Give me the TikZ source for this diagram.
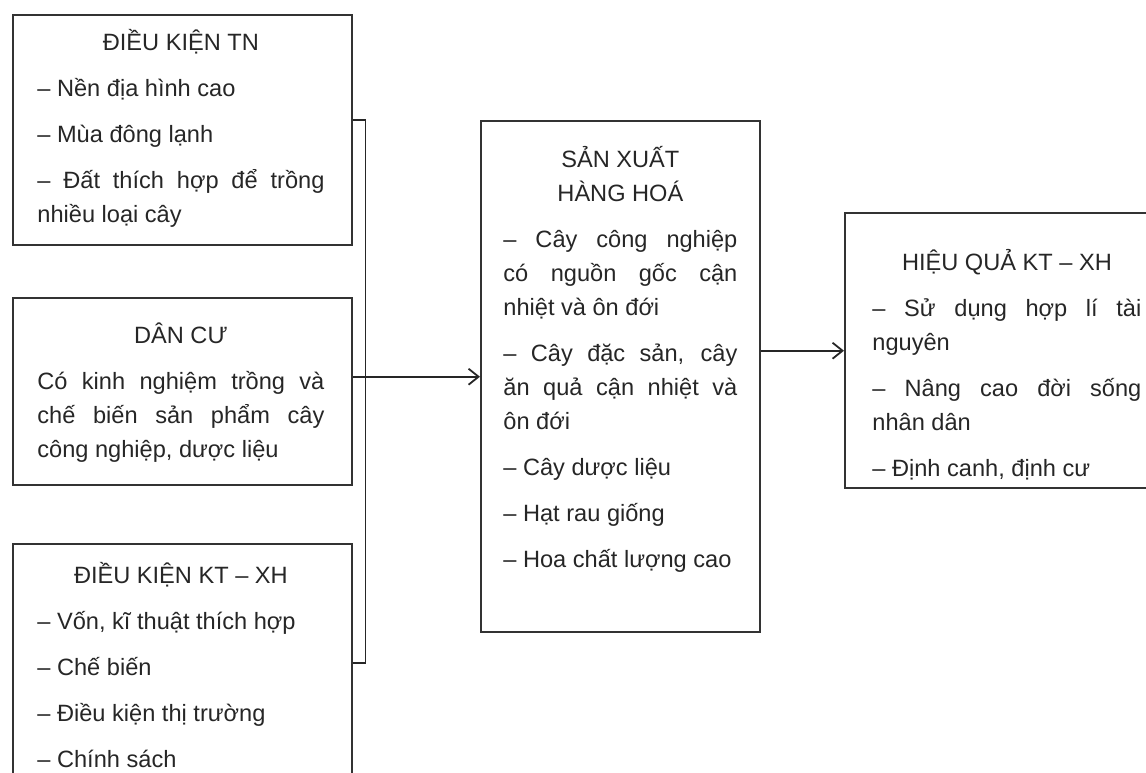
\documentclass[tikz,border=0pt]{standalone}
\usepackage{fontspec}
\setmainfont{Liberation Sans}
\usetikzlibrary{arrows.meta}

\begin{document}
\begin{tikzpicture}[x=0.5pt,y=-0.5pt,
  cell/.style={draw=black!80,line width=1.2pt,anchor=north west,inner sep=0pt},
  words/.style={anchor=base west,inner sep=0pt,text width=#1,align=justify,text=black!85,
    font=\fontsize{11.8}{17}\selectfont,
    execute at begin node={\setlength{\parskip}{6pt}}},
  link/.style={draw=black!85,line width=0.9pt},
  arr/.style={link,-{Straight Barb[length=5pt,width=8pt]}}]
\useasboundingbox (0,0) rectangle (1146,772);
\clip (0,0) rectangle (1146,772);

\node[cell,minimum width=169.5pt,minimum height=115pt] (tn) at (12,14) {};
\node[cell,minimum width=169.5pt,minimum height=93.5pt] (dc) at (12,297) {};
\node[cell,minimum width=169.5pt,minimum height=119pt] (kt) at (12,543) {};
\node[cell,minimum width=139.5pt,minimum height=255.5pt] (sx) at (480,120) {};
\node[cell,minimum width=162pt,minimum height=137.5pt] (hq) at (844,212) {};

\node[words=143.5pt] (tn-txt) at (37,50) {{\centering ĐIỀU KIỆN TN\par}
  – Nền địa hình cao\par
  – Mùa đông lạnh\par
  – Đất thích hợp để trồng\linebreak nhiều loại cây};
\node[words=143.5pt] (dc-txt) at (37,343) {{\centering DÂN CƯ\par}
  Có kinh nghiệm trồng và\linebreak chế biến sản phẩm cây\linebreak công nghiệp, dược liệu};
\node[words=143.5pt] (kt-txt) at (37,583) {{\centering ĐIỀU KIỆN KT – XH\par}
  – Vốn, kĩ thuật thích hợp\par
  – Chế biến\par
  – Điều kiện thị trường\par
  – Chính sách};
\node[words=117pt] (sx-txt) at (503,167) {{\centering SẢN XUẤT\\HÀNG HOÁ\par}
  – Cây công nghiệp\linebreak có nguồn gốc cận\linebreak nhiệt và ôn đới\par
  – Cây đặc sản, cây\linebreak ăn quả cận nhiệt và\linebreak ôn đới\par
  – Cây dược liệu\par
  – Hạt rau giống\par
  – Hoa chất lượng cao};
\node[words=134.5pt] (hq-txt) at (872,270) {{\centering HIỆU QUẢ KT – XH\par}
  – Sử dụng hợp lí tài\linebreak nguyên\par
  – Nâng cao đời sống\linebreak nhân dân\par
  – Định canh, định cư};

\draw[link] ([yshift=5pt]tn.east) -- ++(12,0) |- (kt.east);
\draw[arr] (dc.east |- sx.west) -- (sx.west);
\draw[arr] (sx.east |- hq.west) -- (hq.west);
\end{tikzpicture}
\end{document}
